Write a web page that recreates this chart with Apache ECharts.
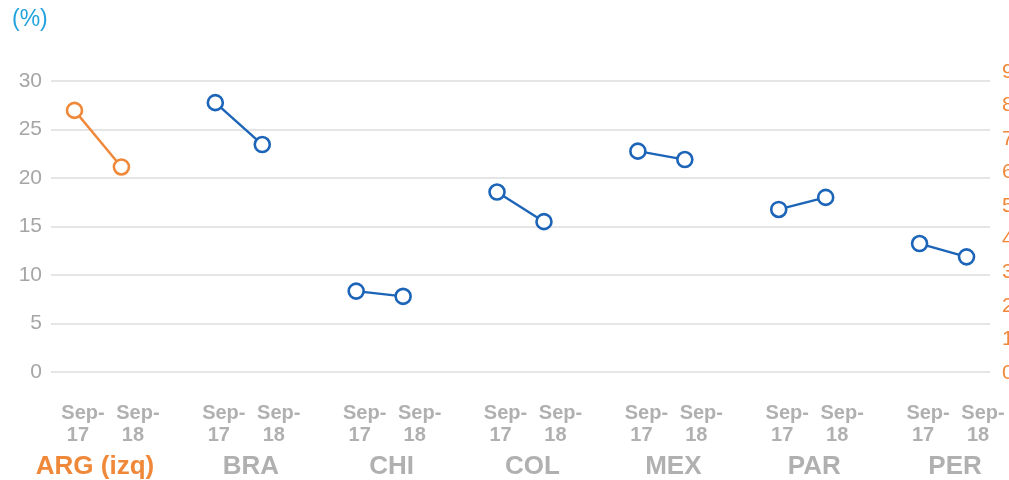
<!DOCTYPE html>
<html>
<head>
<meta charset="utf-8">
<script src="https://cdn.jsdelivr.net/npm/echarts@6/dist/echarts.min.js"></script>
<style>
  html, body { margin: 0; padding: 0; background: #fff; }
  #chart { width: 1009px; height: 480px; }
</style>
</head>
<body>
<div id="chart"></div>
<script>
// datos (%)
const countries = ['ARG (izq)', 'BRA', 'CHI', 'COL', 'MEX', 'PAR', 'PER']
const dates = ['Sep-17', 'Sep-18']
const valARG = [26.97, 21.14]
const valBRA = [27.77, 23.45]
const valCHI = [8.34, 7.8]
const valCOL = [18.55, 15.5]
const valMEX = [22.77, 21.9]
const valPAR = [16.76, 18.0]
const valPER = [13.24, 11.87]
const leftTicks = [0, 30, 5]
const rightTicks = [0, 9, 1]

const seriesValues = [valARG, valBRA, valCHI, valCOL, valMEX, valPAR, valPER]

// slots: Sep-17, Sep-18, hueco entre países
const slots = []
const countrySlots = []
countries.forEach((c, i) => {
  dates.forEach((d, j) => {
    slots.push(d)
    countrySlots.push(j === 0 ? c : '')
  })
  if (i < countries.length - 1) {
    slots.push('')
    countrySlots.push('')
  }
})

const orange = '#F0883A'
const blue = '#1C64B8'
const gray = '#B0B0B0'
const font = 'Liberation Sans'

const series = seriesValues.map((vals, i) => {
  const data = slots.map(() => '-')
  data[i * 3] = vals[0]
  data[i * 3 + 1] = vals[1]
  const color = i === 0 ? orange : blue
  return {
    name: countries[i],
    type: 'line',
    xAxisIndex: 0,
    yAxisIndex: 0,
    data: data,
    symbol: 'circle',
    symbolSize: 15,
    connectNulls: false,
    lineStyle: { color: color, width: 2.4 },
    itemStyle: { color: '#fff', borderColor: color, borderWidth: 2.6 },
    z: 3
  }
})

const dateStyle = (pad) => ({ fontSize: 20, fontWeight: 'bold', color: gray, lineHeight: 22, padding: [0, 0, 0, pad], fontFamily: font })

const chart = echarts.init(document.getElementById('chart'))
chart.setOption({
  animation: false,
  title: {
    text: '(%)',
    left: 7,
    top: 3,
    textStyle: { color: '#22A2DF', fontSize: 23, fontWeight: 'normal', fontFamily: font }
  },
  grid: [
    { left: 51, right: 19, top: 81, bottom: 108, outerBoundsMode: 'none' },
    { left: 51, right: 19, top: 72, bottom: 107, outerBoundsMode: 'none' }
  ],
  xAxis: [
    {
      type: 'category',
      gridIndex: 0,
      data: slots,
      boundaryGap: true,
      axisLine: { show: false },
      axisTick: { show: false },
      axisLabel: {
        interval: 0,
        margin: 30,
        fontFamily: font,
        formatter: (value, index) => {
          if (!value) return ''
          const d = index % 3
          const parts = value.split('-')
          return '{a' + d + '|' + parts[0] + '-}\n{b' + d + '|' + parts[1] + '}'
        },
        rich: {
          a0: dateStyle(17),
          b0: dateStyle(7),
          a1: dateStyle(33),
          b1: dateStyle(23)
        }
      }
    },
    {
      type: 'category',
      gridIndex: 0,
      data: countrySlots,
      boundaryGap: true,
      position: 'bottom',
      axisLine: { show: false },
      axisTick: { show: false },
      axisLabel: {
        interval: 0,
        margin: 80,
        formatter: (value, index) => {
          if (!value) return ''
          return (index === 0 ? '{c0|' : '{c1|') + value + '}'
        },
        rich: {
          c0: { fontSize: 26, fontWeight: 'bold', color: orange, lineHeight: 30, padding: [0, 0, 0, 41], fontFamily: font },
          c1: { fontSize: 26, fontWeight: 'bold', color: gray, lineHeight: 30, padding: [0, 0, 0, 71], fontFamily: font }
        }
      }
    },
    {
      type: 'category',
      gridIndex: 1,
      data: slots,
      show: false
    }
  ],
  yAxis: [
    {
      type: 'value',
      gridIndex: 0,
      position: 'left',
      min: leftTicks[0],
      max: leftTicks[1],
      interval: leftTicks[2],
      axisLine: { show: false },
      axisTick: { show: false },
      axisLabel: { color: '#A6A6A6', fontSize: 21, margin: 9, fontFamily: font },
      splitLine: { lineStyle: { color: '#DCDCDC', width: 1.5 } }
    },
    {
      type: 'value',
      gridIndex: 1,
      position: 'right',
      min: rightTicks[0],
      max: rightTicks[1],
      interval: rightTicks[2],
      axisLine: { show: false },
      axisTick: { show: false },
      splitLine: { show: false },
      axisLabel: { color: orange, fontSize: 21, margin: 12, fontFamily: font }
    }
  ],
  series: series
})
</script>
</body>
</html>
